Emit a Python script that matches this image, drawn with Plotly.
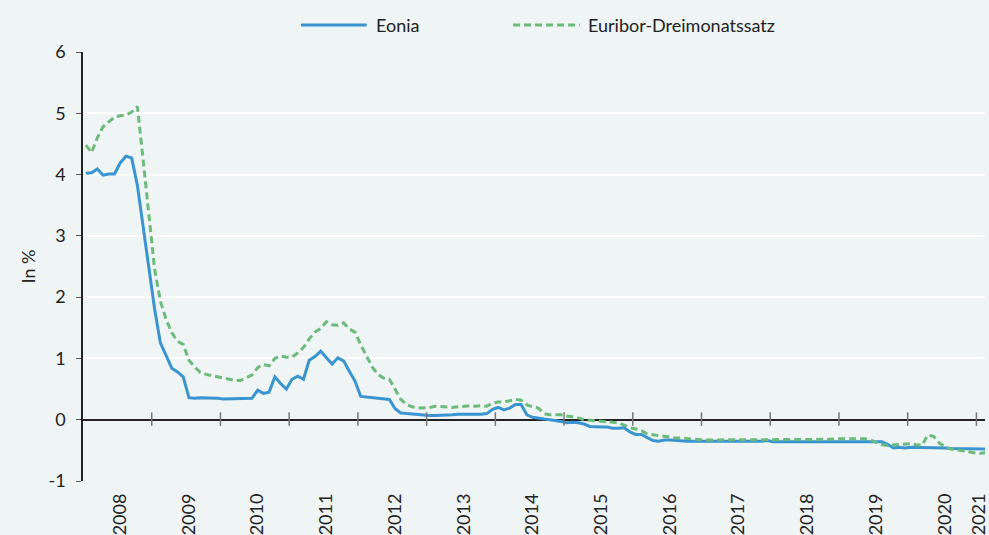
import plotly.graph_objects as go

# ---- data (monthly averages, Jan 2008 - Mar 2021, in %) ----
start_year = 2008
eonia = [
    4.02, 4.03, 4.09, 3.99, 4.01, 4.01, 4.19, 4.30, 4.27, 3.82, 3.15, 2.49,   # 2008
    1.81, 1.26, 1.06, 0.84, 0.78, 0.70, 0.36, 0.35, 0.36, 0.36, 0.36, 0.35,   # 2009
    0.34, 0.34, 0.35, 0.35, 0.34, 0.35, 0.48, 0.43, 0.45, 0.70, 0.59, 0.50,   # 2010
    0.66, 0.71, 0.66, 0.97, 1.03, 1.12, 1.01, 0.91, 1.01, 0.96, 0.79, 0.63,   # 2011
    0.38, 0.37, 0.36, 0.35, 0.34, 0.33, 0.18, 0.11, 0.10, 0.09, 0.08, 0.07,   # 2012
    0.07, 0.07, 0.07, 0.08, 0.08, 0.09, 0.09, 0.08, 0.08, 0.09, 0.10, 0.17,   # 2013
    0.20, 0.16, 0.19, 0.25, 0.25, 0.08, 0.04, 0.02, 0.01, 0.00, -0.01, -0.03, # 2014
    -0.05, -0.04, -0.05, -0.07, -0.11, -0.12, -0.12, -0.12, -0.14, -0.14, -0.13, -0.20,  # 2015
    -0.24, -0.24, -0.29, -0.34, -0.35, -0.33, -0.33, -0.34, -0.34, -0.35, -0.35, -0.35,  # 2016
    -0.35, -0.35, -0.35, -0.36, -0.36, -0.36, -0.36, -0.36, -0.36, -0.36, -0.35, -0.34,  # 2017
    -0.36, -0.36, -0.36, -0.37, -0.36, -0.36, -0.36, -0.36, -0.36, -0.37, -0.36, -0.36,  # 2018
    -0.37, -0.37, -0.37, -0.37, -0.37, -0.36, -0.37, -0.36, -0.40, -0.46, -0.45, -0.46,  # 2019
    -0.45, -0.45, -0.45, -0.45, -0.46, -0.46, -0.46, -0.47, -0.47, -0.47, -0.47, -0.47,  # 2020
    -0.48, -0.48, -0.48,                                                          # 2021
]
euribor_3m = [
    4.48, 4.36, 4.60, 4.78, 4.86, 4.94, 4.96, 4.97, 5.02, 5.11, 4.24, 3.29,   # 2008
    2.46, 1.94, 1.64, 1.42, 1.28, 1.23, 0.97, 0.86, 0.77, 0.74, 0.72, 0.71,   # 2009
    0.68, 0.66, 0.64, 0.64, 0.69, 0.73, 0.85, 0.90, 0.88, 1.00, 1.04, 1.02,   # 2010
    1.02, 1.09, 1.18, 1.32, 1.43, 1.49, 1.60, 1.55, 1.54, 1.58, 1.48, 1.43,   # 2011
    1.22, 1.05, 0.86, 0.74, 0.68, 0.66, 0.50, 0.33, 0.25, 0.21, 0.19, 0.19,   # 2012
    0.20, 0.22, 0.21, 0.21, 0.20, 0.21, 0.22, 0.23, 0.22, 0.23, 0.22, 0.27,   # 2013
    0.29, 0.29, 0.31, 0.33, 0.32, 0.24, 0.21, 0.19, 0.10, 0.08, 0.08, 0.08,   # 2014
    0.06, 0.05, 0.03, 0.00, -0.01, -0.01, -0.02, -0.03, -0.04, -0.05, -0.09, -0.13,  # 2015
    -0.15, -0.18, -0.23, -0.25, -0.26, -0.27, -0.29, -0.30, -0.30, -0.31, -0.31, -0.32,  # 2016
    -0.33, -0.33, -0.33, -0.33, -0.33, -0.33, -0.33, -0.33, -0.33, -0.33, -0.33, -0.33,  # 2017
    -0.33, -0.33, -0.33, -0.33, -0.33, -0.32, -0.32, -0.32, -0.32, -0.32, -0.32, -0.31,  # 2018
    -0.31, -0.31, -0.31, -0.31, -0.31, -0.33, -0.37, -0.41, -0.42, -0.41, -0.40, -0.39,  # 2019
    -0.39, -0.41, -0.42, -0.25, -0.27, -0.38, -0.44, -0.48, -0.49, -0.51, -0.52, -0.54,  # 2020
    -0.55, -0.54, -0.54,                                                          # 2021
]
year_labels = ["2008", "2009", "2010", "2011", "2012", "2013", "2014",
               "2015", "2016", "2017", "2018", "2019", "2020", "2021"]
y_ticks = [-1, 0, 1, 2, 3, 4, 5, 6]
y_tick_labels = ["-1", "0", "1", "2", "3", "4", "5", "6"]
series_names = ["Eonia", "Euribor-Dreimonatssatz"]

# ---- styling ----
BG = "#eff4f4"
BLUE = "#3a94d0"
GREEN = "#6cba7c"
TXT = "#222222"
FONT = "Lato"
X_MAX = 2021.125
LABEL_SHIFT = 0.04  # small visual offset of rotated year labels

months = [start_year + (i + 0.5) / 12 for i in range(len(eonia))]

fig = go.Figure()
fig.add_trace(go.Scatter(x=months, y=eonia, mode="lines", name=series_names[0],
                         line=dict(color=BLUE, width=3), showlegend=False))
fig.add_trace(go.Scatter(x=months, y=euribor_3m, mode="lines", name=series_names[1],
                         line=dict(color=GREEN, width=3, dash="7px,4px"), showlegend=False))

years = [int(y) for y in year_labels]
label_pos = [(y + 0.5 if y + 1 <= X_MAX else y) + LABEL_SHIFT for y in years]

# crossing tick marks on the zero line at year boundaries
for y in years[1:]:
    fig.add_shape(type="line", xref="x", yref="y", x0=y, x1=y, y0=-0.1, y1=0.12,
                  line=dict(color="#777777", width=1.5), layer="above")

# manual legend (positions in pixels of the 989x535 page)
plot_w = 989 - 83
plot_h = 535 - 52 - 53
def px(xp):
    return (xp - 83) / plot_w
def py(yp):
    return (535 - 53 - yp) / plot_h

legend_items = [(302, 368, 375, BLUE, "solid", series_names[0]),
                (515, 582, 588, GREEN, "7px,4px", series_names[1])]
for x0, x1, xt, col, dash, name in legend_items:
    fig.add_shape(type="line", xref="paper", yref="paper", x0=px(x0), x1=px(x1),
                  y0=py(25), y1=py(25), line=dict(color=col, width=3, dash=dash))
    fig.add_annotation(xref="paper", yref="paper", x=px(xt), y=py(25), text=name,
                       showarrow=False, xanchor="left", yanchor="middle",
                       font=dict(family=FONT, size=18, color=TXT))

fig.update_layout(
    width=989, height=535,
    margin=dict(l=83, r=0, t=52, b=53),
    paper_bgcolor=BG, plot_bgcolor=BG,
    font=dict(family=FONT, size=18, color=TXT),
    showlegend=False,
    xaxis=dict(range=[start_year, X_MAX], tickmode="array", tickvals=label_pos,
               ticktext=year_labels, tickangle=-90, ticks="", showgrid=False,
               zeroline=False, showline=False, ticklabelstandoff=8,
               ticklabeloverflow="allow",
               tickfont=dict(family=FONT, size=18, color=TXT)),
    yaxis=dict(range=[-1, 6], tickmode="array", tickvals=y_ticks,
               ticktext=y_tick_labels,
               showgrid=True, gridcolor="#ffffff", gridwidth=1.5,
               zeroline=True, zerolinecolor=TXT, zerolinewidth=1.5,
               showline=True, linecolor=TXT, linewidth=1.5,
               ticks="outside", ticklen=5, tickcolor="#555555", tickwidth=1,
               ticklabelstandoff=7,
               tickfont=dict(family=FONT, size=18, color=TXT),
               title=dict(text="In %", standoff=8,
                          font=dict(family=FONT, size=18, color=TXT))),
)

fig.write_html(
    "out.html",
    config={"displayModeBar": False},
    post_script="document.body.style.margin='0';document.body.style.overflow='hidden';"
                "document.body.style.background='" + BG + "';",
)
